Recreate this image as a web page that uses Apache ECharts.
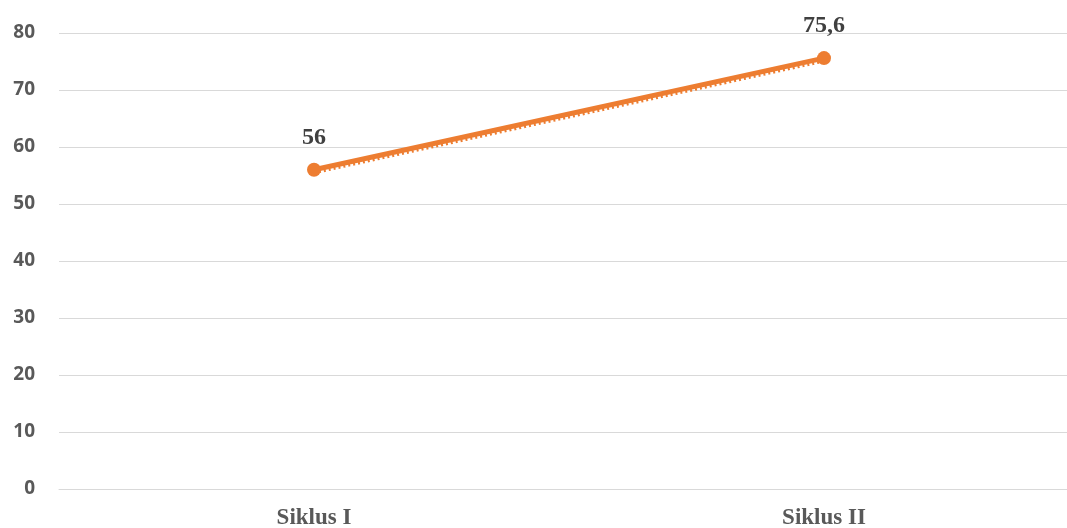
<!DOCTYPE html>
<html>
<head>
<meta charset="utf-8">
<script src="https://cdn.jsdelivr.net/npm/echarts@6/dist/echarts.min.js"></script>
<style>
  html, body { margin: 0; padding: 0; background: #fff; overflow: hidden; }
  #chart { width: 1079px; height: 528px; }
</style>
</head>
<body>
<div id="chart"></div>
<script>
// Nilai rata-rata per siklus
const categories = ['Siklus I', 'Siklus II'];
const scores = [56, 75.6];
const trend = [56, 75.6];
const yTicks = { min: 0, max: 80, interval: 10 };

const orange = '#ED7D31';
const serif = '"Palatino Linotype", "Book Antiqua", Palatino, "Liberation Serif", "DejaVu Serif", serif';

const chart = echarts.init(document.getElementById('chart'));
chart.setOption({
  animation: false,
  grid: { left: 59, top: 33, right: 0, bottom: 39, containLabel: false, outerBoundsMode: 'none' },
  xAxis: {
    type: 'category',
    data: categories,
    boundaryGap: true,
    axisLine: { show: true, lineStyle: { color: '#d9d9d9', width: 1 } },
    axisTick: { show: false },
    axisLabel: {
      margin: 18,
      color: '#595959',
      fontFamily: serif,
      fontWeight: 'bold',
      fontSize: 23
    }
  },
  yAxis: {
    type: 'value',
    min: yTicks.min,
    max: yTicks.max,
    interval: yTicks.interval,
    axisLine: { show: false },
    axisTick: { show: false },
    splitLine: { lineStyle: { color: '#d9d9d9', width: 1 } },
    axisLabel: {
      margin: 24,
      color: '#595959',
      fontFamily: '"Open Sans", "Noto Sans", sans-serif',
      fontWeight: 'bold',
      fontSize: 19
    }
  },
  series: [
    {
      // garis tren linear (titik-titik)
      type: 'line',
      data: trend,
      symbol: 'none',
      silent: true,
      z: 1,
      lineStyle: {
        color: orange,
        width: 3,
        type: [2, 3],
        shadowColor: orange,
        shadowBlur: 0,
        shadowOffsetY: 3
      }
    },
    {
      type: 'line',
      data: scores,
      symbol: 'circle',
      symbolSize: 14,
      z: 2,
      itemStyle: { color: orange },
      lineStyle: { color: orange, width: 5 },
      label: {
        show: true,
        position: 'top',
        distance: 13,
        color: '#404040',
        fontFamily: serif,
        fontWeight: 'bold',
        fontSize: 24,
        formatter: p => String(p.value).replace('.', ',')
      }
    }
  ]
});
</script>
</body>
</html>
